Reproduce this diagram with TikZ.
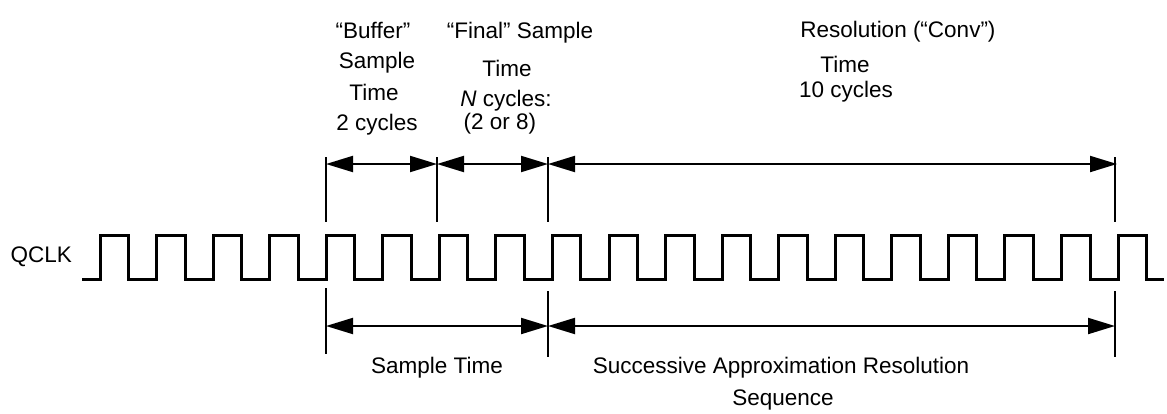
\documentclass[tikz,border=0pt]{standalone}
\usepackage{fontspec}
\setmainfont{Liberation Sans}
\usetikzlibrary{arrows.meta}
\begin{document}
\begin{tikzpicture}[x=1pt,y=-1pt,
  lbl/.style={anchor=base,inner sep=0pt,font=\fontsize{22.5}{27}\selectfont},
  clk/.style={line width=3pt,line join=miter,line cap=butt},
  markline/.style={line width=2pt},
  dim/.style={line width=2pt,{Triangle[length=27pt,width=16pt]}-{Triangle[length=27pt,width=16pt]}}]
\useasboundingbox (0,0) rectangle (1167,413);
% clock waveform
\draw[clk] (82,279) foreach \k in {0,...,18} {
  -- ({100+56.56*\k},279) -- ({100+56.56*\k},235)
  -- ({128.5+56.56*\k},235) -- ({128.5+56.56*\k},279) } -- (1164,279);
\node[lbl,anchor=base east] (qclk) at (72,262) {QCLK};
% marker lines
\coordinate (m1t) at (326,157); \coordinate (m1u) at (326,222);
\coordinate (m2t) at (437,157); \coordinate (m2u) at (437,222);
\coordinate (m3t) at (548,157); \coordinate (m3u) at (548,222);
\coordinate (m4t) at (1115,157); \coordinate (m4u) at (1115,222);
\coordinate (b1t) at (326,288); \coordinate (b1u) at (326,354);
\coordinate (b3t) at (548,291); \coordinate (b3u) at (548,357);
\coordinate (b4t) at (1115,291); \coordinate (b4u) at (1115,357);
\foreach \a/\b in {m1t/m1u,m2t/m2u,m3t/m3u,m4t/m4u,b1t/b1u,b3t/b3u,b4t/b4u}
  \draw[markline] (\a) -- (\b);
% arrow end points
\coordinate (a1) at (326,164); \coordinate (a2) at (437,164);
\coordinate (a3) at (548,164); \coordinate (a4) at (1117,164);
\coordinate (c1) at (326,326); \coordinate (c3) at (548,326);
\coordinate (c4) at (1115,326);
\draw[dim] (a1) -- (a2);
\draw[dim] (a2) -- (a3);
\draw[dim] (a3) -- (a4);
\draw[dim] (c1) -- (c3);
\draw[dim] (c3) -- (c4);
% top labels
\node[lbl] (buf1) at (373,38) {“Buffer”};
\node[lbl] (buf2) at (377,68) {Sample};
\node[lbl] (buf3) at (374,100) {Time};
\node[lbl] (buf4) at (377,130) {2 cycles};
\node[lbl] (fin1) at (520,38) {“Final” Sample};
\node[lbl] (fin2) at (507,76) {Time};
\node[lbl] (fin3) at (506,106) {\textit{N} cycles:};
\node[lbl] (fin4) at (500,129) {(2 or 8)};
\node[lbl] (res1) at (898,37) {Resolution (“Conv”)};
\node[lbl] (res2) at (845,72) {Time};
\node[lbl] (res3) at (846,97) {10 cycles};
% bottom labels
\node[lbl] (st) at (437,373) {Sample Time};
\node[lbl] (sar1) at (781,373) {Successive Approximation Resolution};
\node[lbl] (sar2) at (783,405) {Sequence};
\end{tikzpicture}
\end{document}
